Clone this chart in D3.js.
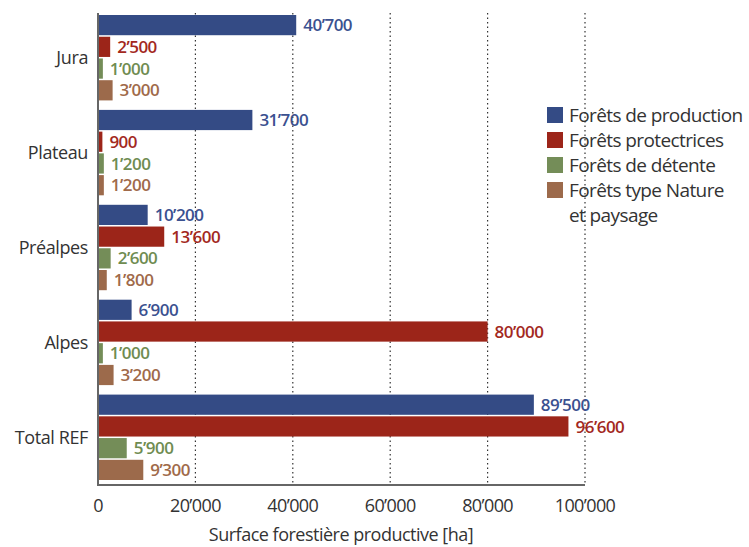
<!DOCTYPE html>
<html>
<head>
<meta charset="utf-8">
<script src="https://cdn.jsdelivr.net/npm/d3@7"></script>
<style>
  body { margin: 0; background: #fff; }
  svg { font-family: "Open Sans", sans-serif; }
</style>
</head>
<body>
<script>
// data
const regions = ["Jura", "Plateau", "Préalpes", "Alpes", "Total REF"];
const seriesNames = ["Forêts de production", "Forêts protectrices", "Forêts de détente", "Forêts type Nature et paysage"];
const production = [40700, 31700, 10200, 6900, 89500];
const protection = [2500, 900, 13600, 80000, 96600];
const detente = [1000, 1200, 2600, 1000, 5900];
const nature = [3000, 1200, 1800, 3200, 9300];
const xTicks = [0, 20000, 40000, 60000, 80000, 100000];

const barColors = ["#344b85", "#9c2519", "#748d58", "#9c6a4b"];
const labelColors = ["#3b5190", "#a3291e", "#6f8c51", "#a06a4a"];

const w = 749, h = 547;
const svg = d3.select("body").append("svg")
    .attr("width", w)
    .attr("height", h);

const fmt = v => d3.format(",")(v).replace(/,/g, "’");

let x = d3.scaleLinear()
    .domain([0, 100000])
    .range([98, 585]);

let y = d3.scaleBand()
    .domain(regions)
    .range([15, 480])
    .paddingInner(0.1);

let ySub = d3.scaleBand()
    .domain(d3.range(4))
    .range([0, y.bandwidth()])
    .paddingInner(0.07);

const series = [production, protection, detente, nature];
const plotTop = 13, plotBottom = 485;

// dotted grid
svg.append("g")
    .selectAll("line")
    .data(xTicks.slice(1))
    .enter()
    .append("line")
    .attr("x1", d => x(d))
    .attr("x2", d => x(d))
    .attr("y1", plotTop)
    .attr("y2", plotBottom)
    .attr("stroke", "#333")
    .attr("stroke-width", 1.2)
    .attr("stroke-dasharray", "1.5,3");

// bars
const groups = svg.append("g")
    .selectAll("g")
    .data(regions)
    .enter()
    .append("g")
    .attr("transform", d => `translate(0,${y(d)})`);

groups.each(function (region, i) {
    const g = d3.select(this);
    series.forEach((s, k) => {
        g.append("rect")
            .attr("x", x(0))
            .attr("y", ySub(k))
            .attr("width", x(s[i]) - x(0))
            .attr("height", ySub.bandwidth())
            .attr("fill", barColors[k]);
        g.append("text")
            .attr("x", x(s[i]) + 7)
            .attr("y", ySub(k) + ySub.bandwidth() / 2)
            .attr("dy", "0.36em")
            .attr("fill", labelColors[k])
            .attr("font-size", 17)
            .attr("font-weight", 600)
            .attr("letter-spacing", -0.5)
            .text(fmt(s[i]));
    });
});

// axes lines
svg.append("line")
    .attr("x1", x(0)).attr("x2", x(0))
    .attr("y1", plotTop).attr("y2", plotBottom)
    .attr("stroke", "#666").attr("stroke-width", 2);
svg.append("line")
    .attr("x1", x(0) - 1).attr("x2", x(100000))
    .attr("y1", plotBottom).attr("y2", plotBottom)
    .attr("stroke", "#666").attr("stroke-width", 2);

// x tick labels
svg.append("g")
    .selectAll("text")
    .data(xTicks)
    .enter()
    .append("text")
    .attr("x", d => x(d))
    .attr("y", 512)
    .attr("text-anchor", "middle")
    .attr("font-size", 18)
    .attr("letter-spacing", -0.6)
    .attr("fill", "#333")
    .text(d => fmt(d));

// category labels
svg.append("g")
    .selectAll("text")
    .data(regions)
    .enter()
    .append("text")
    .attr("x", 88)
    .attr("y", d => y(d) + y.bandwidth() / 2)
    .attr("dy", "0.36em")
    .attr("text-anchor", "end")
    .attr("font-size", 18)
    .attr("letter-spacing", -0.4)
    .attr("fill", "#333")
    .text(d => d);

// axis title
svg.append("text")
    .attr("x", 341)
    .attr("y", 541)
    .attr("text-anchor", "middle")
    .attr("font-size", 18)
    .attr("letter-spacing", -0.5)
    .attr("fill", "#333")
    .text("Surface forestière productive [ha]");

// legend
const legend = svg.append("g").attr("transform", "translate(547,107)");
const legendLines = [["Forêts de production"], ["Forêts protectrices"], ["Forêts de détente"], ["Forêts type Nature", "et paysage"]];
legendLines.forEach((lines, k) => {
    legend.append("rect")
        .attr("x", 0)
        .attr("y", k * 25)
        .attr("width", 16)
        .attr("height", 16)
        .attr("fill", barColors[k]);
    lines.forEach((t, j) => {
        legend.append("text")
            .attr("x", 22)
            .attr("y", k * 25 + j * 25 + 8)
            .attr("dy", "0.36em")
            .attr("font-size", 19)
            .attr("letter-spacing", -0.6)
            .attr("fill", "#333")
            .text(t);
    });
});
</script>
</body>
</html>
